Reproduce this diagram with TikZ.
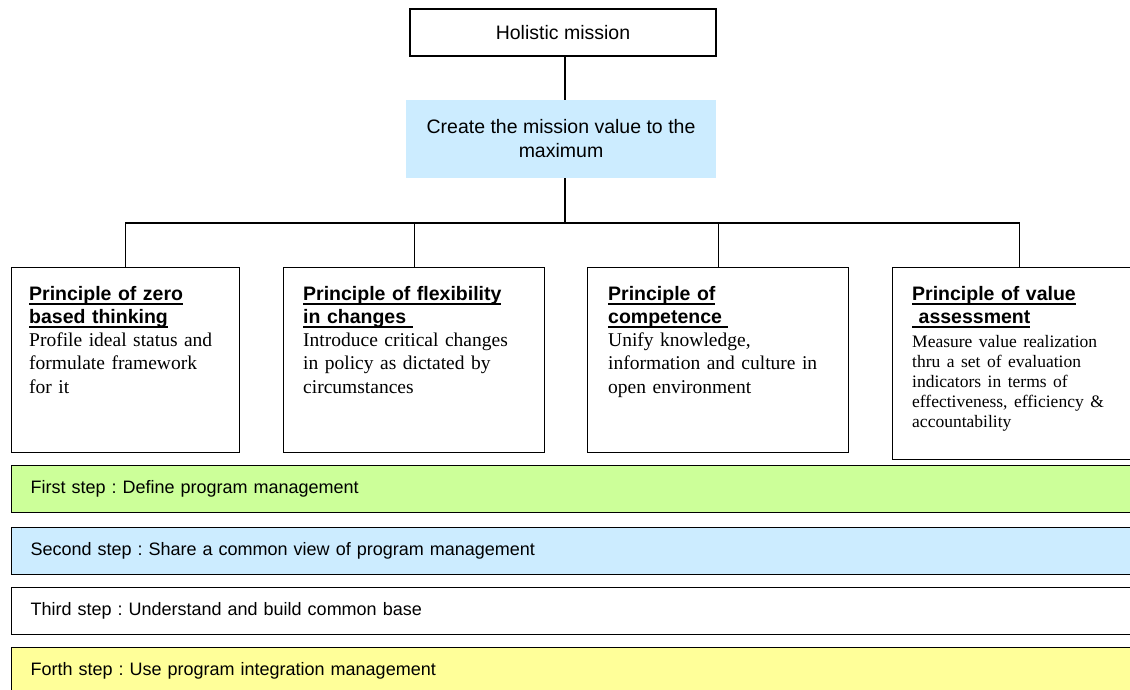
\documentclass[tikz,border=0pt]{standalone}
\usepackage{fontspec}
\setmainfont{Liberation Serif}
\setsansfont{Liberation Sans}
\frenchspacing
\definecolor{paleblue}{HTML}{CCECFF}
\definecolor{palegreen}{HTML}{CCFF99}
\definecolor{paleyellow}{HTML}{FFFF99}
% underlined heading line with the rule at a fixed depth
\newsavebox\headbox
\newcommand\headul[1]{\leavevmode\sbox\headbox{#1}\rlap{\rule[-4.5pt]{\wd\headbox}{1.8pt}}\usebox\headbox}
\newcommand\headfont{\sffamily\bfseries}
\begin{document}
\begin{tikzpicture}[x=1pt,y=-1pt,
  frame/.style={draw=black, line width=1.3pt, inner sep=0pt},
  wire/.style={draw=black, line width=1.3pt},
  sans/.style={font=\sffamily\fontsize{19.5}{24}\selectfont},
  pbox/.style={frame, anchor=north west, minimum height=185pt},
  ptext/.style={anchor=base west, inner sep=0pt, align=left,
    font=\fontsize{19.5}{23.3}\selectfont},
  stepbar/.style={frame, anchor=north west, minimum width=1130pt,
    minimum height=47pt, inner xsep=19pt, text width=1092pt, align=left,
    text height=13pt, text depth=4pt, font=\sffamily\fontsize{18}{22}\selectfont}]
\useasboundingbox (0,0) rectangle (1130,690);
\clip (0,0) rectangle (1130,690);

% mission at the top
\node[frame, sans, minimum width=306pt, minimum height=47pt] (hol) at (563,32.5) {Holistic mission};
\node[fill=paleblue, sans, minimum width=310pt, minimum height=78pt, align=center] (create) at (561,139)
  {Create the mission value to the\\maximum};

% the four principles
\node[pbox, minimum width=228pt] (p1) at (11,267) {};
\node[pbox, minimum width=261pt] (p2) at (283,267) {};
\node[pbox, minimum width=261pt] (p3) at (587,267) {};
\node[pbox, minimum width=254pt, minimum height=192pt] (p4) at (892,267) {};

\node[ptext, text width=205pt] (t1) at (29,300)
  {{\headfont\headul{Principle of zero}\\\headul{based thinking}\par}
   Profile ideal status and\\formulate framework\\for it};
\node[ptext, text width=235pt] (t2) at (303,300)
  {{\headfont\headul{Principle of flexibility}\\\headul{in changes\ }\par}
   Introduce critical changes\\in policy as dictated by\\circumstances};
\node[ptext, text width=235pt] (t3) at (608,300)
  {{\headfont\headul{Principle of}\\\headul{competence\ }\par}
   Unify knowledge,\\information and culture in\\open environment};
\node[ptext, text width=215pt] (t4) at (912,300)
  {{\headfont\headul{Principle of value}\\\headul{\ assessment}\par}
   \vspace{3.7pt}{\fontsize{17.5}{20}\selectfont Measure value realization\\thru a set of evaluation\\indicators in terms of\\effectiveness, efficiency \&\\accountability\par}};

% connectors
\coordinate (bus) at (565,223);
\draw[wire] (hol.south -| bus) -- (create.north -| bus);
\draw[wire] (create.south -| bus) -- (bus);
\draw[wire] (p1.north) |- (bus) -| (p4.north);
\draw[wire] (bus -| p2.north) -- (p2.north);
\draw[wire] (bus -| p3.north) -- (p3.north);

% the four steps
\node[stepbar, fill=palegreen] (s1) at (11,465) {First step : Define program management};
\node[stepbar, fill=paleblue] (s2) at (11,527) {Second step : Share a common view of program management};
\node[stepbar, fill=white] (s3) at (11,587) {Third step : Understand and build common base};
\node[stepbar, fill=paleyellow] (s4) at (11,647) {Forth step : Use program integration management};
\end{tikzpicture}
\end{document}
